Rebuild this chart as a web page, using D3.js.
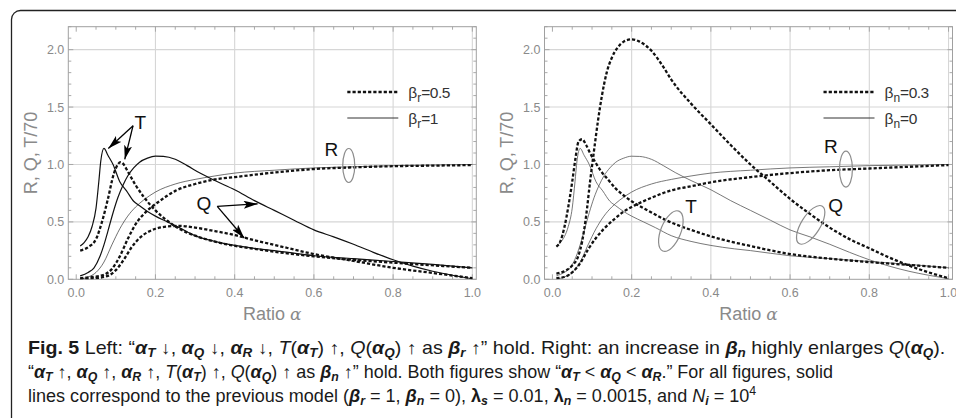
<!DOCTYPE html>
<html><head><meta charset="utf-8">
<script src="https://cdn.jsdelivr.net/npm/d3@7"></script>
<style>body{margin:0;background:#fff} svg{display:block}</style>
</head><body><svg id="c" width="956" height="418"></svg>
<script>
// ---------- DATA ----------
const xTicks = [0, 0.2, 0.4, 0.6, 0.8, 1.0];
const yTicks = [0, 0.5, 1.0, 1.5, 2.0];
const xTickLabels = ["0.0", "0.2", "0.4", "0.6", "0.8", "1.0"];
const yTickLabels = ["0.0", "0.5", "1.0", "1.5", "2.0"];
const yTitle = "R, Q, T/70";
const xTitle = "Ratio ";

// previous model (beta_r = 1, beta_n = 0) : solid lines in both panels
const prevT = [[0.01,0.29],[0.02,0.32],[0.03,0.37],[0.04,0.46],[0.05,0.62],[0.057,0.85],[0.062,1.03],[0.07,1.14],[0.08,1.08],[0.093,1.0],[0.11,0.85],[0.127,0.77],[0.145,0.68],[0.16,0.64],[0.18,0.59],[0.2,0.55],[0.23,0.5],[0.26,0.45],[0.3,0.38],[0.35,0.33],[0.4,0.295],[0.46,0.265],[0.5,0.25],[0.6,0.205],[0.7,0.18],[0.8,0.155],[0.9,0.13],[1.0,0.10]];
const prevQ = [[0.01,0.03],[0.03,0.06],[0.045,0.1],[0.06,0.2],[0.07,0.3],[0.08,0.42],[0.093,0.58],[0.105,0.71],[0.118,0.82],[0.13,0.9],[0.145,0.97],[0.16,1.02],[0.18,1.055],[0.2,1.072],[0.22,1.07],[0.25,1.045],[0.28,0.99],[0.31,0.93],[0.35,0.86],[0.4,0.78],[0.45,0.685],[0.5,0.6],[0.55,0.515],[0.6,0.43],[0.65,0.37],[0.7,0.305],[0.75,0.235],[0.8,0.17],[0.85,0.115],[0.9,0.07],[0.95,0.035],[1.0,0.005]];
const prevR = [[0.01,0.0],[0.03,0.02],[0.05,0.06],[0.07,0.15],[0.09,0.3],[0.11,0.44],[0.13,0.55],[0.15,0.63],[0.17,0.69],[0.2,0.76],[0.25,0.83],[0.3,0.87],[0.35,0.9],[0.4,0.925],[0.5,0.95],[0.6,0.97],[0.7,0.98],[0.8,0.99],[0.9,0.995],[1.0,1.0]];

// left panel: beta_r = 0.5 (dashed)
const br05T = [[0.01,0.25],[0.03,0.28],[0.05,0.35],[0.065,0.5],[0.08,0.7],[0.095,0.92],[0.105,1.0],[0.112,1.02],[0.12,1.0],[0.13,0.94],[0.15,0.82],[0.17,0.72],[0.2,0.6],[0.23,0.51],[0.26,0.44],[0.3,0.38],[0.36,0.32],[0.46,0.26],[0.6,0.2],[0.8,0.145],[1.0,0.10]];
const br05Q = [[0.01,0.0],[0.05,0.01],[0.08,0.03],[0.1,0.08],[0.12,0.17],[0.14,0.28],[0.16,0.36],[0.18,0.41],[0.2,0.44],[0.23,0.46],[0.26,0.465],[0.3,0.45],[0.35,0.42],[0.4,0.385],[0.45,0.34],[0.5,0.3],[0.6,0.22],[0.7,0.16],[0.8,0.1],[0.9,0.055],[1.0,0.01]];
const br05R = [[0.01,0.01],[0.04,0.02],[0.07,0.04],[0.09,0.09],[0.11,0.2],[0.13,0.35],[0.15,0.48],[0.18,0.6],[0.21,0.68],[0.25,0.77],[0.3,0.83],[0.35,0.87],[0.4,0.89],[0.5,0.93],[0.6,0.96],[0.7,0.975],[0.8,0.985],[0.9,0.99],[1.0,0.995]];

// right panel: beta_n = 0.3 (dashed)
const bn03T = [[0.01,0.285],[0.02,0.33],[0.03,0.45],[0.04,0.63],[0.05,0.85],[0.058,1.05],[0.066,1.2],[0.075,1.22],[0.085,1.17],[0.095,1.1],[0.11,1.01],[0.12,0.955],[0.14,0.87],[0.16,0.79],[0.18,0.73],[0.2,0.68],[0.24,0.6],[0.29,0.51],[0.35,0.43],[0.43,0.345],[0.5,0.29],[0.6,0.22],[0.7,0.18],[0.8,0.15],[0.9,0.125],[1.0,0.10]];
const bn03Q = [[0.01,0.05],[0.03,0.07],[0.05,0.12],[0.065,0.2],[0.075,0.33],[0.085,0.55],[0.095,0.85],[0.105,1.12],[0.115,1.38],[0.125,1.6],[0.137,1.8],[0.15,1.93],[0.165,2.02],[0.18,2.07],[0.2,2.09],[0.22,2.07],[0.25,1.99],[0.28,1.85],[0.3,1.74],[0.35,1.53],[0.4,1.35],[0.45,1.17],[0.5,1.0],[0.55,0.85],[0.6,0.7],[0.65,0.57],[0.7,0.45],[0.75,0.35],[0.8,0.27],[0.85,0.19],[0.9,0.12],[0.95,0.06],[1.0,0.01]];
const bn03R = [[0.01,0.01],[0.03,0.02],[0.05,0.06],[0.07,0.14],[0.09,0.26],[0.11,0.36],[0.13,0.44],[0.155,0.52],[0.18,0.59],[0.2,0.63],[0.25,0.71],[0.3,0.775],[0.35,0.81],[0.4,0.845],[0.5,0.89],[0.6,0.925],[0.7,0.95],[0.8,0.965],[0.9,0.98],[1.0,0.995]];

const legendLeft = [["β","r","=0.5"],["β","r","=1"]];
const legendRight = [["β","n","=0.3"],["β","n","=0"]];

// ---------- DRAW ----------
const svg = d3.select("#c");
const defs = svg.append("defs");
defs.append("marker").attr("id","ah").attr("viewBox","0 0 14 8").attr("refX",14).attr("refY",4)
  .attr("markerWidth",14).attr("markerHeight",8).attr("markerUnits","userSpaceOnUse").attr("orient","auto")
  .append("path").attr("d","M0,0L14,4L0,8L3,4Z").attr("fill","#000");

svg.append("rect").attr("x",11.5).attr("y",10.5).attr("width",975).attr("height",440).attr("rx",9)
  .attr("fill","none").attr("stroke","#222").attr("stroke-width",1.3);

const styles = {
  dashed: {stroke:"#111", w:2.3, dash:"3.2,2"},
  solidB: {stroke:"#111", w:1.2, dash:null},
  solidThin: {stroke:"#333", w:0.7, dash:null},
  solidGray: {stroke:"#555", w:0.8, dash:null}
};
const SANS = "Liberation Sans, Arial, sans-serif";

function panel(id, left, series, legend, notes) {
  const x = d3.scaleLinear().domain([-0.02, 1.01]).range([left, left + 408]);
  const y = d3.scaleLinear().domain([0, 2.2]).range([279.3, 26.7]);
  const g = svg.append("g");
  const [x0, x1] = x.range(), [yb, yt] = y.range();
  defs.append("clipPath").attr("id","clip"+id).append("rect")
    .attr("x",x0).attr("y",yt).attr("width",x1-x0).attr("height",yb-yt);

  // grid
  g.selectAll(".gx").data(xTicks.filter(d=>d>0)).join("line")
    .attr("x1",d=>x(d)).attr("x2",d=>x(d)).attr("y1",yt).attr("y2",yb)
    .attr("stroke","#d6d6d6").attr("stroke-width",1.1);
  g.selectAll(".gy").data(yTicks.filter(d=>d>0)).join("line")
    .attr("y1",d=>y(d)).attr("y2",d=>y(d)).attr("x1",x0).attr("x2",x1)
    .attr("stroke","#d6d6d6").attr("stroke-width",1.1);

  // frame
  g.append("rect").attr("x",x0).attr("y",yt).attr("width",x1-x0).attr("height",yb-yt)
    .attr("fill","none").attr("stroke","#a0a0a0").attr("stroke-width",1);

  // ticks (inside, all four sides)
  const xMinor = d3.range(0, 1.0001, 0.05), yMinor = d3.range(0, 2.2001, 0.1);
  const isMajX = v => xTicks.some(t=>Math.abs(t-v)<1e-6);
  const isMajY = v => yTicks.some(t=>Math.abs(t-v)<1e-6);
  const tk = g.append("g").attr("stroke","#a0a0a0").attr("stroke-width",0.9);
  xMinor.forEach(v=>{
    const L = isMajX(v)?5:3;
    tk.append("line").attr("x1",x(v)).attr("x2",x(v)).attr("y1",yb).attr("y2",yb-L);
    tk.append("line").attr("x1",x(v)).attr("x2",x(v)).attr("y1",yt).attr("y2",yt+L);
  });
  yMinor.forEach(v=>{
    const L = isMajY(v)?5:3;
    tk.append("line").attr("y1",y(v)).attr("y2",y(v)).attr("x1",x0).attr("x2",x0+L);
    tk.append("line").attr("y1",y(v)).attr("y2",y(v)).attr("x1",x1).attr("x2",x1-L);
  });

  // tick labels
  xTicks.forEach((v,i)=>{
    g.append("text").attr("x",x(v)).attr("y",yb+17.5).attr("text-anchor","middle")
      .attr("font-family",SANS).attr("font-size","12.5px").attr("fill","#8a8a8a").text(xTickLabels[i]);
  });
  yTicks.forEach((v,i)=>{
    g.append("text").attr("x",x0-4).attr("y",y(v)+4.5).attr("text-anchor","end")
      .attr("font-family",SANS).attr("font-size","12.5px").attr("fill","#8a8a8a").text(yTickLabels[i]);
  });

  // axis titles
  g.append("text").attr("transform",`translate(${left-31.5},${(yt+yb)/2}) rotate(-90)`)
    .attr("text-anchor","middle")
    .attr("font-family",SANS).attr("font-size","18px").attr("fill","#8a8a8a")
    .text(yTitle);
  const xt = g.append("text").attr("x",(x0+x1)/2).attr("y",319.5).attr("text-anchor","middle")
    .attr("font-family",SANS).attr("font-size","18px").attr("fill","#8a8a8a");
  xt.append("tspan").text(xTitle);
  xt.append("tspan").attr("font-style","italic").attr("font-family","DejaVu Serif, serif").attr("font-size","17px").text("α");

  // curves
  const line = d3.line().x(d=>x(d[0])).y(d=>y(d[1])).curve(d3.curveMonotoneX);
  const cg = g.append("g").attr("clip-path",`url(#clip${id})`);
  series.forEach(s=>{
    const st = styles[s.style];
    const p = cg.append("path").attr("d",line(s.data)).attr("fill","none")
      .attr("stroke",st.stroke).attr("stroke-width",st.w).attr("stroke-linejoin","round");
    if (st.dash) p.attr("stroke-dasharray",st.dash);
  });

  // legend
  legend.forEach((lg,i)=>{
    const ly = 92 + i*26;
    const l = g.append("line").attr("x1",left+279).attr("x2",left+330).attr("y1",ly).attr("y2",ly)
      .attr("stroke",i===0?"#111":"#333").attr("stroke-width",i===0?2.3:1.0);
    if (i===0) l.attr("stroke-dasharray",styles.dashed.dash);
    const t = g.append("text").attr("x",left+340).attr("y",ly+5.5)
      .attr("font-family",SANS).attr("font-size","15.5px").attr("fill","#333");
    t.append("tspan").text(lg[0]);
    t.append("tspan").attr("dy",4).attr("font-size","12px").text(lg[1]);
    t.append("tspan").attr("dy",-4).attr("letter-spacing","-0.5").text(lg[2]);
  });

  // annotations
  notes.labels.forEach(n=>{
    g.append("text").attr("x",x(n[1])).attr("y",y(n[2])).attr("text-anchor","middle").attr("dy","0.36em")
      .attr("font-family",SANS).attr("font-size","19px").attr("fill","#111").text(n[0]);
  });
  notes.arrows.forEach(a=>{
    g.append("line").attr("x1",x(a[0])).attr("y1",y(a[1])).attr("x2",x(a[2])).attr("y2",y(a[3]))
      .attr("stroke","#000").attr("stroke-width",1.3).attr("marker-end","url(#ah)");
  });
  notes.ellipses.forEach(e=>{
    g.append("ellipse").attr("cx",0).attr("cy",0).attr("rx",e[2]).attr("ry",e[3])
      .attr("transform",`translate(${x(e[0])},${y(e[1])}) rotate(${e[4]})`)
      .attr("fill","none").attr("stroke","#8c8c8c").attr("stroke-width",1.2);
  });
}

panel("L", 68.3, [
  {data: prevR, style:"solidThin"},
  {data: prevQ, style:"solidB"},
  {data: prevT, style:"solidB"},
  {data: br05R, style:"dashed"},
  {data: br05Q, style:"dashed"},
  {data: br05T, style:"dashed"}
], legendLeft, {
  labels: [["T",0.162,1.37],["Q",0.322,0.66],["R",0.644,1.13]],
  arrows: [[0.1435,1.338,0.081,1.14],[0.1435,1.338,0.1225,1.045],[0.356,0.635,0.458,0.657],[0.356,0.635,0.424,0.36]],
  ellipses: [[0.688,0.991,6,17,0]]
});

panel("R", 544.5, [
  {data: prevR, style:"solidGray"},
  {data: prevQ, style:"solidGray"},
  {data: prevT, style:"solidGray"},
  {data: bn03R, style:"dashed"},
  {data: bn03Q, style:"dashed"},
  {data: bn03T, style:"dashed"}
], legendRight, {
  labels: [["R",0.703,1.16],["Q",0.715,0.648],["T",0.35,0.634]],
  arrows: [],
  ellipses: [[0.741,0.96,6.5,18,0],[0.652,0.474,9.5,22,32],[0.299,0.42,10,21.5,22]]
});

// ---------- CAPTION ----------
const capLines = [
  [["Fig. 5","b"],["  Left: “",""],["α","bi"],["T","sub"],[" ↓, ",""],["α","bi"],["Q","sub"],[" ↓, ",""],["α","bi"],["R","sub"],[" ↓, ",""],["T","i"],["(",""],["α","bi"],["T","sub"],[") ↑, ",""],["Q","i"],["(",""],["α","bi"],["Q","sub"],[") ↑ as ",""],["β","bi"],["r","sub"],[" ↑” hold. Right: an increase in ",""],["β","bi"],["n","sub"],[" highly enlarges ",""],["Q","i"],["(",""],["α","bi"],["Q","sub"],[").",""]],
  [["“",""],["α","bi"],["T","sub"],[" ↑, ",""],["α","bi"],["Q","sub"],[" ↑, ",""],["α","bi"],["R","sub"],[" ↑, ",""],["T","i"],["(",""],["α","bi"],["T","sub"],[") ↑, ",""],["Q","i"],["(",""],["α","bi"],["Q","sub"],[") ↑ as ",""],["β","bi"],["n","sub"],[" ↑” hold. Both figures show “",""],["α","bi"],["T","sub"],[" < ",""],["α","bi"],["Q","sub"],[" < ",""],["α","bi"],["R","sub"],[".” For all figures, solid",""]],
  [["lines correspond to the previous model (",""],["β","bi"],["r","sub"],[" = 1, ",""],["β","bi"],["n","sub"],[" = 0), ",""],["λ","b"],["s","sub"],[" = 0.01, ",""],["λ","b"],["n","sub"],[" = 0.0015, and ",""],["N","i"],["i","sub"],[" = 10",""],["4","sup"]]
];
const capWidths = [918, 805, 729];
const capBase = [354, 378, 402];
capLines.forEach((segs, li)=>{
  const t = svg.append("text").attr("x",0).attr("y",0)
    .attr("font-family",SANS).attr("font-size","17.5px").attr("fill","#1a1a1a");
  let shift = 0;
  segs.forEach(([txt, st])=>{
    const sp = t.append("tspan").text(txt);
    let target = 0;
    if (st==="sub") { target = 3; sp.attr("font-size","12px").attr("font-style","italic"); }
    else if (st==="sup") { target = -7; sp.attr("font-size","12px"); }
    if (st.includes("b")) sp.attr("font-weight","bold");
    if (st==="bi" || st==="i") sp.attr("font-style","italic");
    if (target !== shift) { sp.attr("dy", target - shift); shift = target; }
  });
  const w = t.node().getComputedTextLength();
  t.attr("transform",`translate(28,${capBase[li]}) scale(${capWidths[li]/w},1)`);
});
</script></body></html>
